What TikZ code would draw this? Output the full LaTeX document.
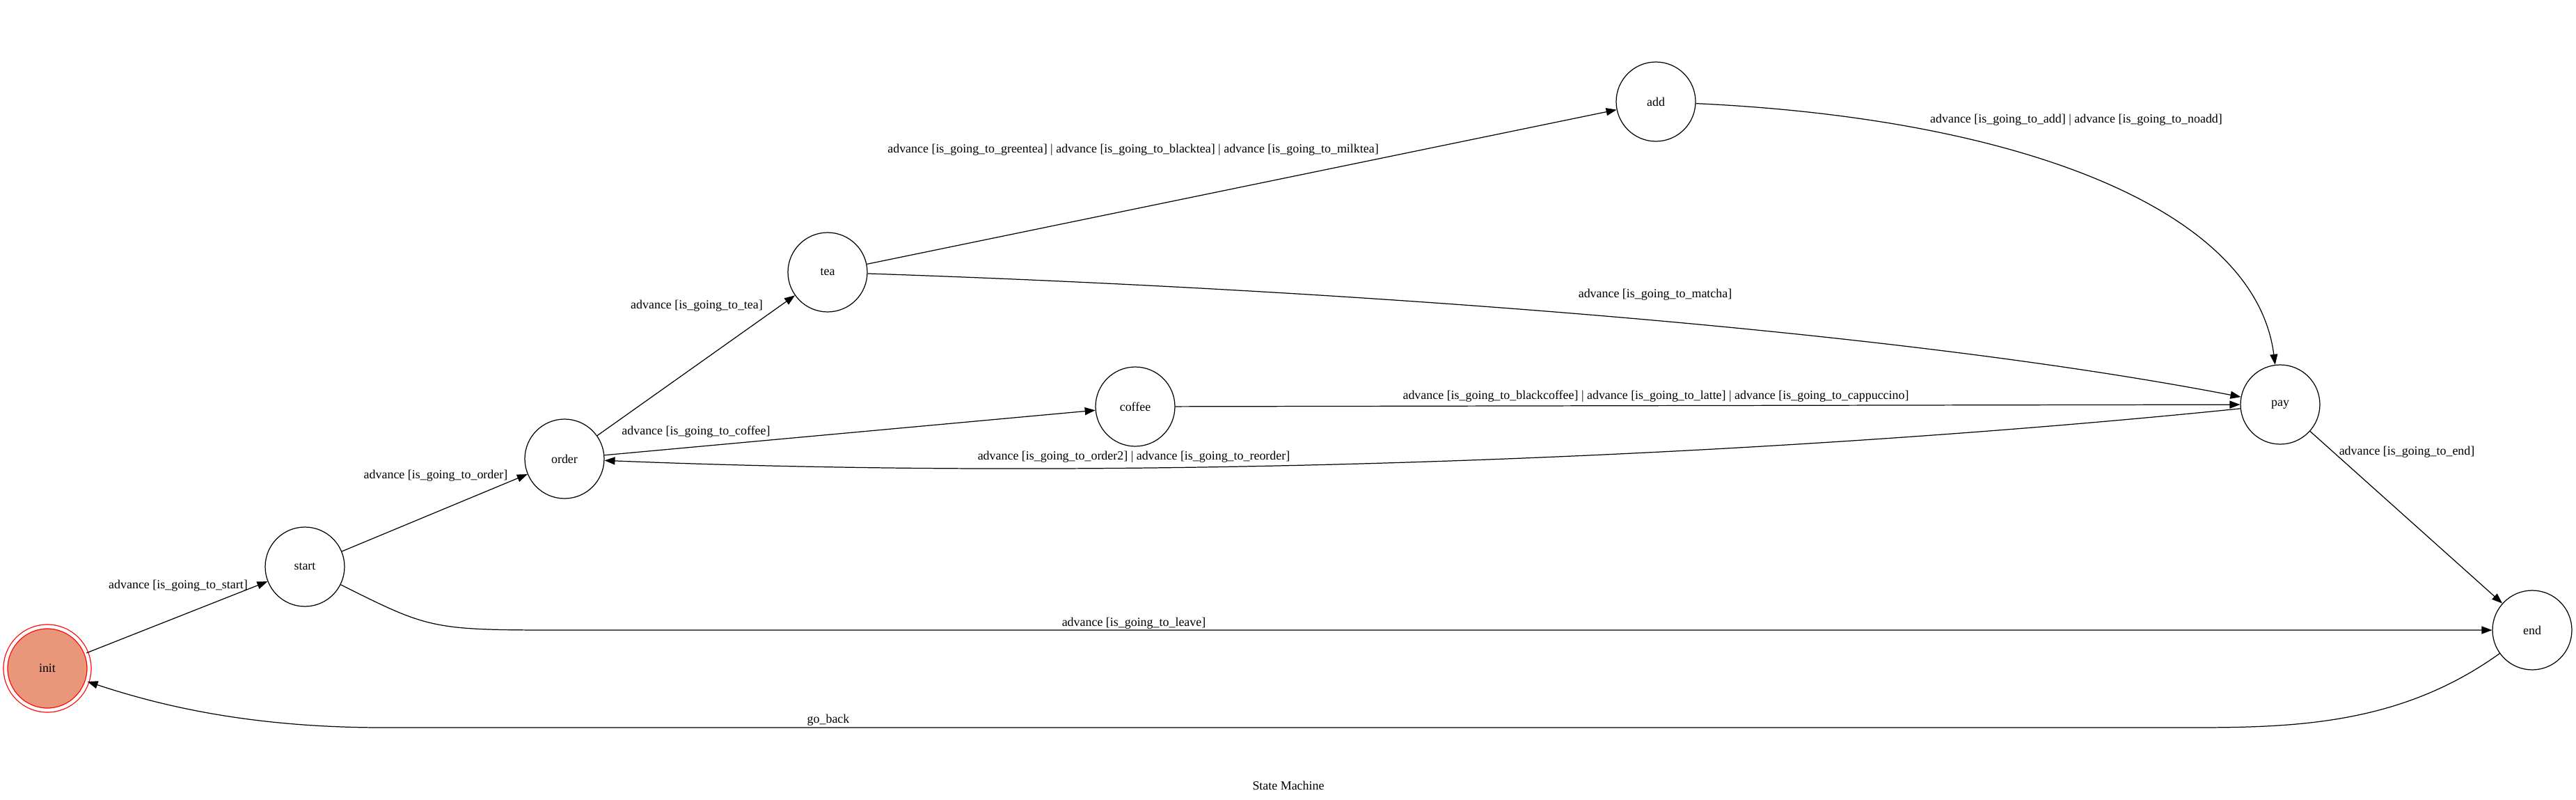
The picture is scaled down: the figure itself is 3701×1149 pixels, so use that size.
\documentclass[tikz,border=0pt]{standalone}
\usepackage{fontspec}
\setmainfont{Liberation Serif}
\usetikzlibrary{arrows.meta}
\definecolor{initfill}{RGB}{233,150,122}

\begin{document}
\begin{tikzpicture}[x=0.02cm, y=-0.02cm, font=\fontsize{10.2}{12}\selectfont,
    statenode/.style={circle, draw, line width=0.7pt, inner sep=0pt, minimum size=2.28cm},
    trans/.style={line width=0.7pt, -{Triangle[length=0.3cm, width=0.22cm]}},
    lbl/.style={inner sep=0pt}]
            \useasboundingbox (0,0) rectangle (3701,1149);

            % Estado inicial
            \node[statenode, draw=red, fill=initfill, double=white, double distance=0.095cm,
                  minimum size=2.4cm] (init) at (68,960) {init};

            % Estados
            \foreach \name/\x/\y in {start/438/814, order/811/659, tea/1189/391,
                                     coffee/1631/584, add/2379/146, pay/3276/581, end/3638/905} {
                \node[statenode] (\name) at (\x,\y) {\name};
            }

            % Transiciones rectas
            \foreach \a/\b in {init/start, start/order, order/tea, order/coffee,
                               tea/add, coffee/pay, pay/end} {
                \draw[trans] (\a) -- (\b);
            }

            % Transiciones curvas
            \draw[trans] (tea) .. controls (1900,415) and (2700,470) .. (pay);
            \draw[trans] (add) .. controls (2900,170) and (3240,300) .. (pay);
            \draw[trans] (pay) .. controls (2600,650) and (1700,695) .. (order);
            \draw[trans] (start) .. controls (620,905) .. (820,905) -- (end);
            \draw[trans] (end) .. controls (3450,1040) and (3300,1045) .. (3150,1045)
                -- (550,1045) .. controls (350,1045) and (220,1010) .. (init);

            % Etiquetas
            \node[lbl] (l-start) at (256,841) {advance [is\_going\_to\_start]};
            \node[lbl] (l-order) at (626,683) {advance [is\_going\_to\_order]};
            \node[lbl] (l-tea) at (1001,439) {advance [is\_going\_to\_tea]};
            \node[lbl] (l-coffee) at (1000,620) {advance [is\_going\_to\_coffee]};
            \node[lbl] (l-add) at (1628,215) {advance [is\_going\_to\_greentea] \textbar{} advance [is\_going\_to\_blacktea] \textbar{} advance [is\_going\_to\_milktea]};
            \node[lbl] (l-pay) at (2983,172) {advance [is\_going\_to\_add] \textbar{} advance [is\_going\_to\_noadd]};
            \node[lbl] (l-matcha) at (2378,423) {advance [is\_going\_to\_matcha]};
            \node[lbl] (l-drink) at (2379,569) {advance [is\_going\_to\_blackcoffee] \textbar{} advance [is\_going\_to\_latte] \textbar{} advance [is\_going\_to\_cappuccino]};
            \node[lbl] (l-reorder) at (1629,656) {advance [is\_going\_to\_order2] \textbar{} advance [is\_going\_to\_reorder]};
            \node[lbl] (l-end) at (3458,649) {advance [is\_going\_to\_end]};
            \node[lbl] (l-leave) at (1629,895) {advance [is\_going\_to\_leave]};
            \node[lbl] (l-back) at (1190,1034) {go\_back};

            % Titulo
            \node[lbl] (title) at (1851,1128) {State Machine};
        \end{tikzpicture}
\end{document}
